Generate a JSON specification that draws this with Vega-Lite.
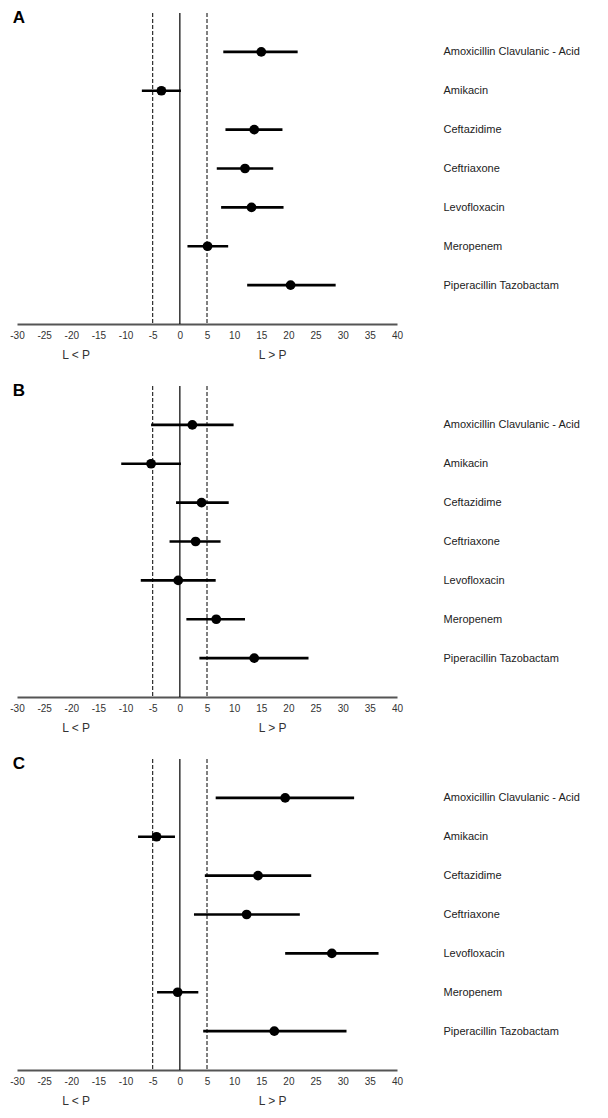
{
  "$schema": "https://vega.github.io/schema/vega-lite/v6.json",
  "padding": {"left": 9, "top": 9, "right": 0, "bottom": 0},
  "background": "white",
  "config": {
    "view": {"stroke": null},
    "axis": {"grid": false},
    "font": "Liberation Sans"
  },
  "datasets": {
    "forest": [
      {"panel": "A", "drug": "Amoxicillin Clavulanic - Acid", "est": 15.0, "lo": 8.0, "hi": 21.7},
      {"panel": "A", "drug": "Amikacin", "est": -3.4, "lo": -7.0, "hi": 0.2},
      {"panel": "A", "drug": "Ceftazidime", "est": 13.7, "lo": 8.4, "hi": 18.9},
      {"panel": "A", "drug": "Ceftriaxone", "est": 12.0, "lo": 6.8, "hi": 17.2},
      {"panel": "A", "drug": "Levofloxacin", "est": 13.2, "lo": 7.6, "hi": 19.1},
      {"panel": "A", "drug": "Meropenem", "est": 5.1, "lo": 1.4, "hi": 8.9},
      {"panel": "A", "drug": "Piperacillin Tazobactam", "est": 20.4, "lo": 12.4, "hi": 28.7},
      {"panel": "B", "drug": "Amoxicillin Clavulanic - Acid", "est": 2.3, "lo": -5.3, "hi": 9.9},
      {"panel": "B", "drug": "Amikacin", "est": -5.3, "lo": -10.8, "hi": 0.2},
      {"panel": "B", "drug": "Ceftazidime", "est": 4.0, "lo": -0.7, "hi": 9.0},
      {"panel": "B", "drug": "Ceftriaxone", "est": 2.9, "lo": -1.9, "hi": 7.5},
      {"panel": "B", "drug": "Levofloxacin", "est": -0.3, "lo": -7.2, "hi": 6.6},
      {"panel": "B", "drug": "Meropenem", "est": 6.7, "lo": 1.2, "hi": 12.0},
      {"panel": "B", "drug": "Piperacillin Tazobactam", "est": 13.7, "lo": 3.6, "hi": 23.7},
      {"panel": "C", "drug": "Amoxicillin Clavulanic - Acid", "est": 19.4, "lo": 6.6, "hi": 32.1},
      {"panel": "C", "drug": "Amikacin", "est": -4.3, "lo": -7.7, "hi": -0.9},
      {"panel": "C", "drug": "Ceftazidime", "est": 14.4, "lo": 4.6, "hi": 24.2},
      {"panel": "C", "drug": "Ceftriaxone", "est": 12.3, "lo": 2.6, "hi": 22.1},
      {"panel": "C", "drug": "Levofloxacin", "est": 28.0, "lo": 19.4, "hi": 36.6},
      {"panel": "C", "drug": "Meropenem", "est": -0.4, "lo": -4.2, "hi": 3.4},
      {"panel": "C", "drug": "Piperacillin Tazobactam", "est": 17.4, "lo": 4.3, "hi": 30.7}
    ],
    "refs": [{"v": -5}, {"v": 5}],
    "zero": [{"v": 0}]
  },
  "spacing": 22,
  "vconcat": [
    {
      "title": {"text": "A", "anchor": "start", "fontSize": 17, "fontWeight": "bold", "color": "#000", "offset": 0, "dy": 15, "dx": 3},
      "width": 380,
      "height": 311,
      "layer": [
        {
          "data": {"name": "refs"},
          "mark": {"type": "rule", "strokeDash": [4, 2], "strokeWidth": 1, "color": "#000"},
          "encoding": {
            "x": {"field": "v", "type": "quantitative", "scale": {"domain": [-30, 40], "nice": false, "zero": false},
              "axis": {"values": [-30, -25, -20, -19.2, -15, -10, -5, 0, 5, 10, 15, 17, 20, 25, 30, 35, 40], "tickCount": 30, "labelExpr": "datum.value === -19.2 ? ['', 'L < P'] : datum.value === 17 ? ['', 'L > P'] : '' + datum.value", "orient": "bottom", "domain": true, "domainColor": "#555", "domainWidth": 2, "ticks": false, "labelPadding": 6, "labelFontSize": {"condition": {"test": "datum.value === -19.2 || datum.value === 17", "value": 12}, "value": 10}, "labelLineHeight": 19, "labelColor": "#333", "labelFlush": false, "labelOverlap": false, "title": null}}
          }
        },
        {
          "data": {"name": "zero"},
          "mark": {"type": "rule", "strokeWidth": 1.2, "color": "#000"},
          "encoding": {
            "x": {"field": "v", "type": "quantitative"}
          }
        },
        {
          "data": {"name": "forest"},
          "transform": [{"filter": "datum.panel === 'A'"}],
          "mark": {"type": "rule", "strokeWidth": 2.6, "color": "#000"},
          "encoding": {
            "x": {"field": "lo", "type": "quantitative"},
            "x2": {"field": "hi"},
            "y": {"field": "drug", "type": "nominal", "sort": null, "scale": {"type": "point", "padding": 1},
              "axis": {"orient": "right", "domain": false, "ticks": false, "labelPadding": 46, "labelAlign": "left", "labelFontSize": 11, "labelColor": "#222", "title": null}}
          }
        },
        {
          "data": {"name": "forest"},
          "transform": [{"filter": "datum.panel === 'A'"}],
          "mark": {"type": "circle", "size": 95, "opacity": 1, "color": "#000"},
          "encoding": {
            "x": {"field": "est", "type": "quantitative"},
            "y": {"field": "drug", "type": "nominal", "sort": null}
          }
        }
      ]
    },
    {
      "title": {"text": "B", "anchor": "start", "fontSize": 17, "fontWeight": "bold", "color": "#000", "offset": 0, "dy": 15, "dx": 3},
      "width": 380,
      "height": 311,
      "layer": [
        {
          "data": {"name": "refs"},
          "mark": {"type": "rule", "strokeDash": [4, 2], "strokeWidth": 1, "color": "#000"},
          "encoding": {
            "x": {"field": "v", "type": "quantitative", "scale": {"domain": [-30, 40], "nice": false, "zero": false},
              "axis": {"values": [-30, -25, -20, -19.2, -15, -10, -5, 0, 5, 10, 15, 17, 20, 25, 30, 35, 40], "tickCount": 30, "labelExpr": "datum.value === -19.2 ? ['', 'L < P'] : datum.value === 17 ? ['', 'L > P'] : '' + datum.value", "orient": "bottom", "domain": true, "domainColor": "#555", "domainWidth": 2, "ticks": false, "labelPadding": 6, "labelFontSize": {"condition": {"test": "datum.value === -19.2 || datum.value === 17", "value": 12}, "value": 10}, "labelLineHeight": 19, "labelColor": "#333", "labelFlush": false, "labelOverlap": false, "title": null}}
          }
        },
        {
          "data": {"name": "zero"},
          "mark": {"type": "rule", "strokeWidth": 1.2, "color": "#000"},
          "encoding": {
            "x": {"field": "v", "type": "quantitative"}
          }
        },
        {
          "data": {"name": "forest"},
          "transform": [{"filter": "datum.panel === 'B'"}],
          "mark": {"type": "rule", "strokeWidth": 2.6, "color": "#000"},
          "encoding": {
            "x": {"field": "lo", "type": "quantitative"},
            "x2": {"field": "hi"},
            "y": {"field": "drug", "type": "nominal", "sort": null, "scale": {"type": "point", "padding": 1},
              "axis": {"orient": "right", "domain": false, "ticks": false, "labelPadding": 46, "labelAlign": "left", "labelFontSize": 11, "labelColor": "#222", "title": null}}
          }
        },
        {
          "data": {"name": "forest"},
          "transform": [{"filter": "datum.panel === 'B'"}],
          "mark": {"type": "circle", "size": 95, "opacity": 1, "color": "#000"},
          "encoding": {
            "x": {"field": "est", "type": "quantitative"},
            "y": {"field": "drug", "type": "nominal", "sort": null}
          }
        }
      ]
    },
    {
      "title": {"text": "C", "anchor": "start", "fontSize": 17, "fontWeight": "bold", "color": "#000", "offset": 0, "dy": 15, "dx": 3},
      "width": 380,
      "height": 311,
      "layer": [
        {
          "data": {"name": "refs"},
          "mark": {"type": "rule", "strokeDash": [4, 2], "strokeWidth": 1, "color": "#000"},
          "encoding": {
            "x": {"field": "v", "type": "quantitative", "scale": {"domain": [-30, 40], "nice": false, "zero": false},
              "axis": {"values": [-30, -25, -20, -19.2, -15, -10, -5, 0, 5, 10, 15, 17, 20, 25, 30, 35, 40], "tickCount": 30, "labelExpr": "datum.value === -19.2 ? ['', 'L < P'] : datum.value === 17 ? ['', 'L > P'] : '' + datum.value", "orient": "bottom", "domain": true, "domainColor": "#555", "domainWidth": 2, "ticks": false, "labelPadding": 6, "labelFontSize": {"condition": {"test": "datum.value === -19.2 || datum.value === 17", "value": 12}, "value": 10}, "labelLineHeight": 19, "labelColor": "#333", "labelFlush": false, "labelOverlap": false, "title": null}}
          }
        },
        {
          "data": {"name": "zero"},
          "mark": {"type": "rule", "strokeWidth": 1.2, "color": "#000"},
          "encoding": {
            "x": {"field": "v", "type": "quantitative"}
          }
        },
        {
          "data": {"name": "forest"},
          "transform": [{"filter": "datum.panel === 'C'"}],
          "mark": {"type": "rule", "strokeWidth": 2.6, "color": "#000"},
          "encoding": {
            "x": {"field": "lo", "type": "quantitative"},
            "x2": {"field": "hi"},
            "y": {"field": "drug", "type": "nominal", "sort": null, "scale": {"type": "point", "padding": 1},
              "axis": {"orient": "right", "domain": false, "ticks": false, "labelPadding": 46, "labelAlign": "left", "labelFontSize": 11, "labelColor": "#222", "title": null}}
          }
        },
        {
          "data": {"name": "forest"},
          "transform": [{"filter": "datum.panel === 'C'"}],
          "mark": {"type": "circle", "size": 95, "opacity": 1, "color": "#000"},
          "encoding": {
            "x": {"field": "est", "type": "quantitative"},
            "y": {"field": "drug", "type": "nominal", "sort": null}
          }
        }
      ]
    }
  ]
}
